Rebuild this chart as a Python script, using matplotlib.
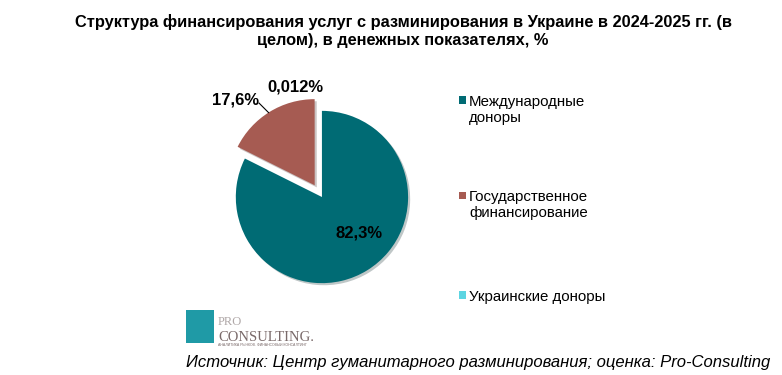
import matplotlib
matplotlib.use("Agg")
import matplotlib.pyplot as plt
import matplotlib.patheffects as pe
from matplotlib.patches import Rectangle

plt.rcParams['font.family'] = ['Liberation Sans', 'DejaVu Sans']

# data
categories = ["Международные\nдоноры", "Государственное\nфинансирование", "Украинские доноры"]
shares = [82.3, 17.6, 0.012]
labels = ["82,3%", "17,6%", "0,012%"]
colors = ["#006B74", "#A65B52", "#5DD5E2"]

fig = plt.figure(figsize=(7.82, 3.75), dpi=100)

fig.text(403 / 782, 1 - 14 / 375, "Структура финансирования услуг с разминирования в Украине в 2024-2025 гг. (в\n"
         "целом), в денежных показателях, %", ha="center", va="top",
         fontsize=11.8, fontweight="bold", linespacing=1.25)

ax = fig.add_axes([0.2685, 0.176, 0.2864, 0.5973])
wedges, _ = ax.pie(shares, colors=colors, startangle=90, counterclock=False,
                   explode=[0, 0.16, 0], radius=1.0,
                   wedgeprops=dict(linewidth=0))
for w in wedges:
    w.set_path_effects([pe.SimplePatchShadow(offset=(1.5, -1.5), alpha=0.25), pe.Normal()])
ax.set_xlim(-1.3, 1.3); ax.set_ylim(-1.3, 1.3)
ax.set_aspect("equal")
ax.axis("off")

ax.text(0.43, -0.42, labels[0], ha="center", va="center", fontsize=12, fontweight="bold")
ax.text(-1.0, 1.13, labels[1], ha="center", va="center", fontsize=12, fontweight="bold")
ax.text(-0.31, 1.28, labels[2], ha="center", va="center", fontsize=12, fontweight="bold")
ax.plot([-0.73, -0.62], [1.09, 0.98], color="black", lw=0.8, clip_on=False)

# legend
leg_y = [0.733, 0.478, 0.213]
for cat, col, y in zip(categories, colors, leg_y):
    fig.patches.append(Rectangle((0.587, y - 0.009), 0.0095, 0.02, transform=fig.transFigure,
                                 facecolor=col, edgecolor="none"))
    fig.text(0.6, y + 0.014, cat, ha="left", va="top", fontsize=10.8, linespacing=1.15)

# logo
fig.patches.append(Rectangle((186 / 782, 1 - 343 / 375), 28 / 782, 33 / 375,
                             transform=fig.transFigure, facecolor="#1F9AA6", edgecolor="none"))
fig.text(218 / 782, 1 - 325 / 375, "PRO", fontsize=9, color="#B0A8A8", family="Liberation Serif")
fig.text(218 / 782, 1 - 341 / 375, "CONSULTING.", fontsize=10.5, color="#7A6A6A", family="Liberation Serif")
fig.text(218 / 782, 1 - 346 / 375, "АНАЛИТИКА РЫНКОВ. ФИНАНСОВЫЙ КОНСАЛТИНГ", fontsize=2.5, color="#7A6A6A")

fig.text(0.985, 1 - 363 / 375, "Источник: Центр гуманитарного разминирования; оценка: Pro-Consulting",
         ha="right", va="center", fontsize=12, style="italic")

fig.savefig("out.png", dpi=100)
